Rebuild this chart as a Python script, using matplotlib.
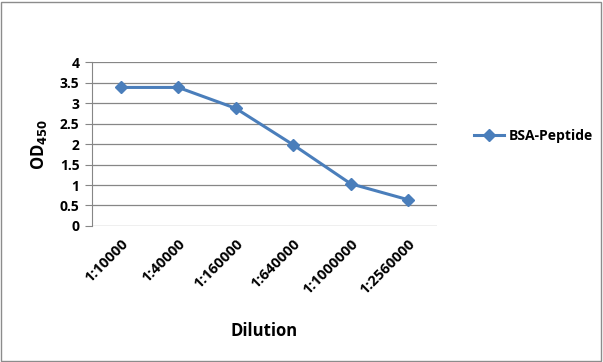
import matplotlib
matplotlib.use("Agg")
import matplotlib.pyplot as plt
from matplotlib.patches import Rectangle
from matplotlib.transforms import ScaledTranslation

categories = ["1:10000", "1:40000", "1:160000", "1:640000", "1:1000000", "1:2560000"]
values = [3.38, 3.38, 2.87, 1.98, 1.03, 0.64]
yticks = [0, 0.5, 1, 1.5, 2, 2.5, 3, 3.5, 4]
ytick_labels = ["0", "0.5", "1", "1.5", "2", "2.5", "3", "3.5", "4"]

plt.rcParams['font.family'] = ['Open Sans', 'DejaVu Sans']

fig = plt.figure(figsize=(6.03, 3.62), dpi=100)
fig.patches.append(Rectangle((0.002, 0.003), 0.994, 0.992, transform=fig.transFigure,
                             fill=False, edgecolor="#8c8c8c", linewidth=1.0))
ax = fig.add_axes([0.1526, 0.3757, 0.572, 0.453])

x = list(range(len(categories)))
ax.plot(x, values, color="#4A7EBB", linewidth=2.2, marker="D", markersize=6,
        markerfacecolor="#4A7EBB", markeredgecolor="#4A7EBB", label="BSA-Peptide",
        zorder=3)

ax.set_xlim(-0.5, len(categories) - 0.5)
ax.set_ylim(0, 4)
ax.set_yticks(yticks)
ax.set_yticklabels(ytick_labels, fontsize=10, fontweight="bold")
ax.set_xticks(x)
ax.set_xticklabels(categories, rotation=45, ha="right", va="top",
                   rotation_mode="anchor", fontsize=10.5, fontweight="bold")
offset = ScaledTranslation(8 / 100, 0, fig.dpi_scale_trans)
for lbl in ax.get_xticklabels():
    lbl.set_transform(lbl.get_transform() + offset)
ax.tick_params(axis="x", length=0, pad=8)
ax.tick_params(axis="y", length=5, color="#868686", pad=4)
ax.yaxis.grid(True, color="#868686", linewidth=0.9)
ax.set_axisbelow(True)
for s in ["top", "right", "bottom"]:
    ax.spines[s].set_visible(False)
ax.spines["left"].set_color("#868686")

ax.set_xlabel("Dilution", fontsize=12, fontweight="bold", labelpad=18)
ax.set_ylabel(r"OD$_{\mathbf{450}}$", fontsize=12, fontweight="bold", labelpad=8)

fig.legend(handles=ax.get_lines(), loc="center left", bbox_to_anchor=(0.765, 0.625),
           frameon=False, prop={"weight": "bold", "size": 10},
           handlelength=2.2, handletextpad=0.3)

fig.savefig("out.png", dpi=100)
